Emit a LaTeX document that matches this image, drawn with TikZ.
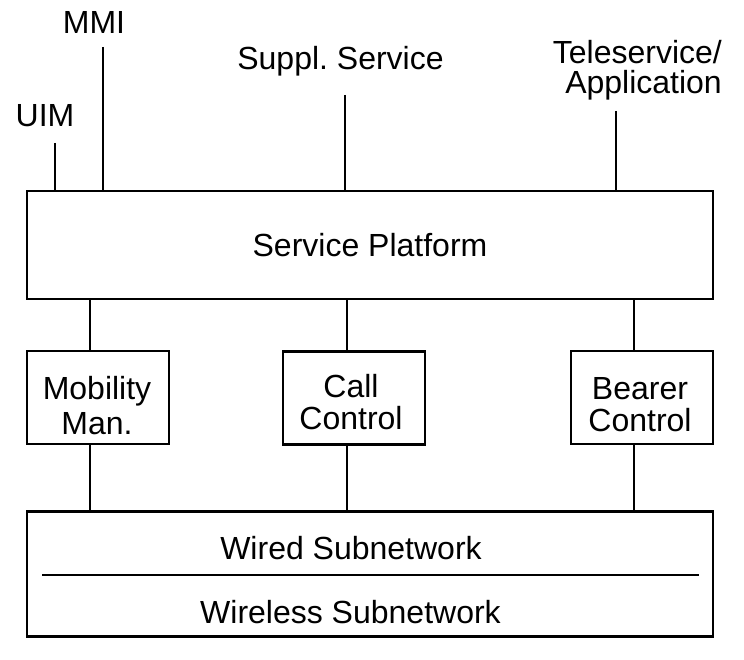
\documentclass[tikz,border=0pt]{standalone}
\usepackage{fontspec}
\setmainfont{Liberation Sans}
\frenchspacing
\begin{document}
\begin{tikzpicture}[x=1pt,y=-1pt]
\tikzset{
  box/.style={draw, line width=2.2pt, inner sep=0pt},
  lbl/.style={inner sep=0pt, align=center, font=\fontsize{32}{32}\selectfont},
  conn/.style={line width=2.2pt}
}
\useasboundingbox (0,0) rectangle (744,660);
% main boxes
\node[box, minimum width=686pt, minimum height=108pt, font=\fontsize{32}{32}\selectfont] (sp) at (370,245) {Service Platform};
\node[box, minimum width=142pt, minimum height=93pt] (mm) at (98,397.5) {};
\node[box, minimum width=142pt, minimum height=93pt] (cc) at (354,398) {};
\node[box, minimum width=142pt, minimum height=93pt] (bc) at (642,397.5) {};
\node[lbl, anchor=north, font=\fontsize{32}{35}\selectfont] (mmt) at (97,376) {Mobility\\Man.};
\node[lbl, anchor=north] (cct) at (351,374) {Call\\Control};
\node[lbl, anchor=north] (bct) at (640,377) {Bearer\\Control};
\node[box, minimum width=686pt, minimum height=125pt] (net) at (370,574) {};
\node[lbl, anchor=base] (wired) at (351,559) {Wired Subnetwork};
\node[lbl, anchor=base] (wireless) at (350.5,623) {Wireless Subnetwork};
\coordinate (dl) at (42,575);
\coordinate (dr) at (699,575);
\draw[conn] (dl) -- (dr);
% top labels
\node[lbl, anchor=base] (uim) at (45,127) {UIM};
\node[lbl, anchor=base] (mmi) at (94,34) {MMI};
\node[lbl, anchor=base] (ss) at (340.5,70) {Suppl. Service};
\node[lbl, align=right, anchor=north east, font=\fontsize{32}{30}\selectfont] (tele) at (722,40) {Teleservice/\\Application};
% top connectors
\coordinate (t1) at (55,143);
\coordinate (t2) at (103,47);
\coordinate (t3) at (345,95);
\coordinate (t4) at (616,111);
\foreach \t in {t1,t2,t3,t4}{\draw[conn] (\t) -- (\t |- sp.north);}
% middle connectors
\coordinate (v1) at (90,0);
\coordinate (v2) at (347,0);
\coordinate (v3) at (634,0);
\draw[conn] (v1 |- sp.south) -- (v1 |- mm.north);
\draw[conn] (v1 |- mm.south) -- (v1 |- net.north);
\draw[conn] (v2 |- sp.south) -- (v2 |- cc.north);
\draw[conn] (v2 |- cc.south) -- (v2 |- net.north);
\draw[conn] (v3 |- sp.south) -- (v3 |- bc.north);
\draw[conn] (v3 |- bc.south) -- (v3 |- net.north);
\end{tikzpicture}
\end{document}
